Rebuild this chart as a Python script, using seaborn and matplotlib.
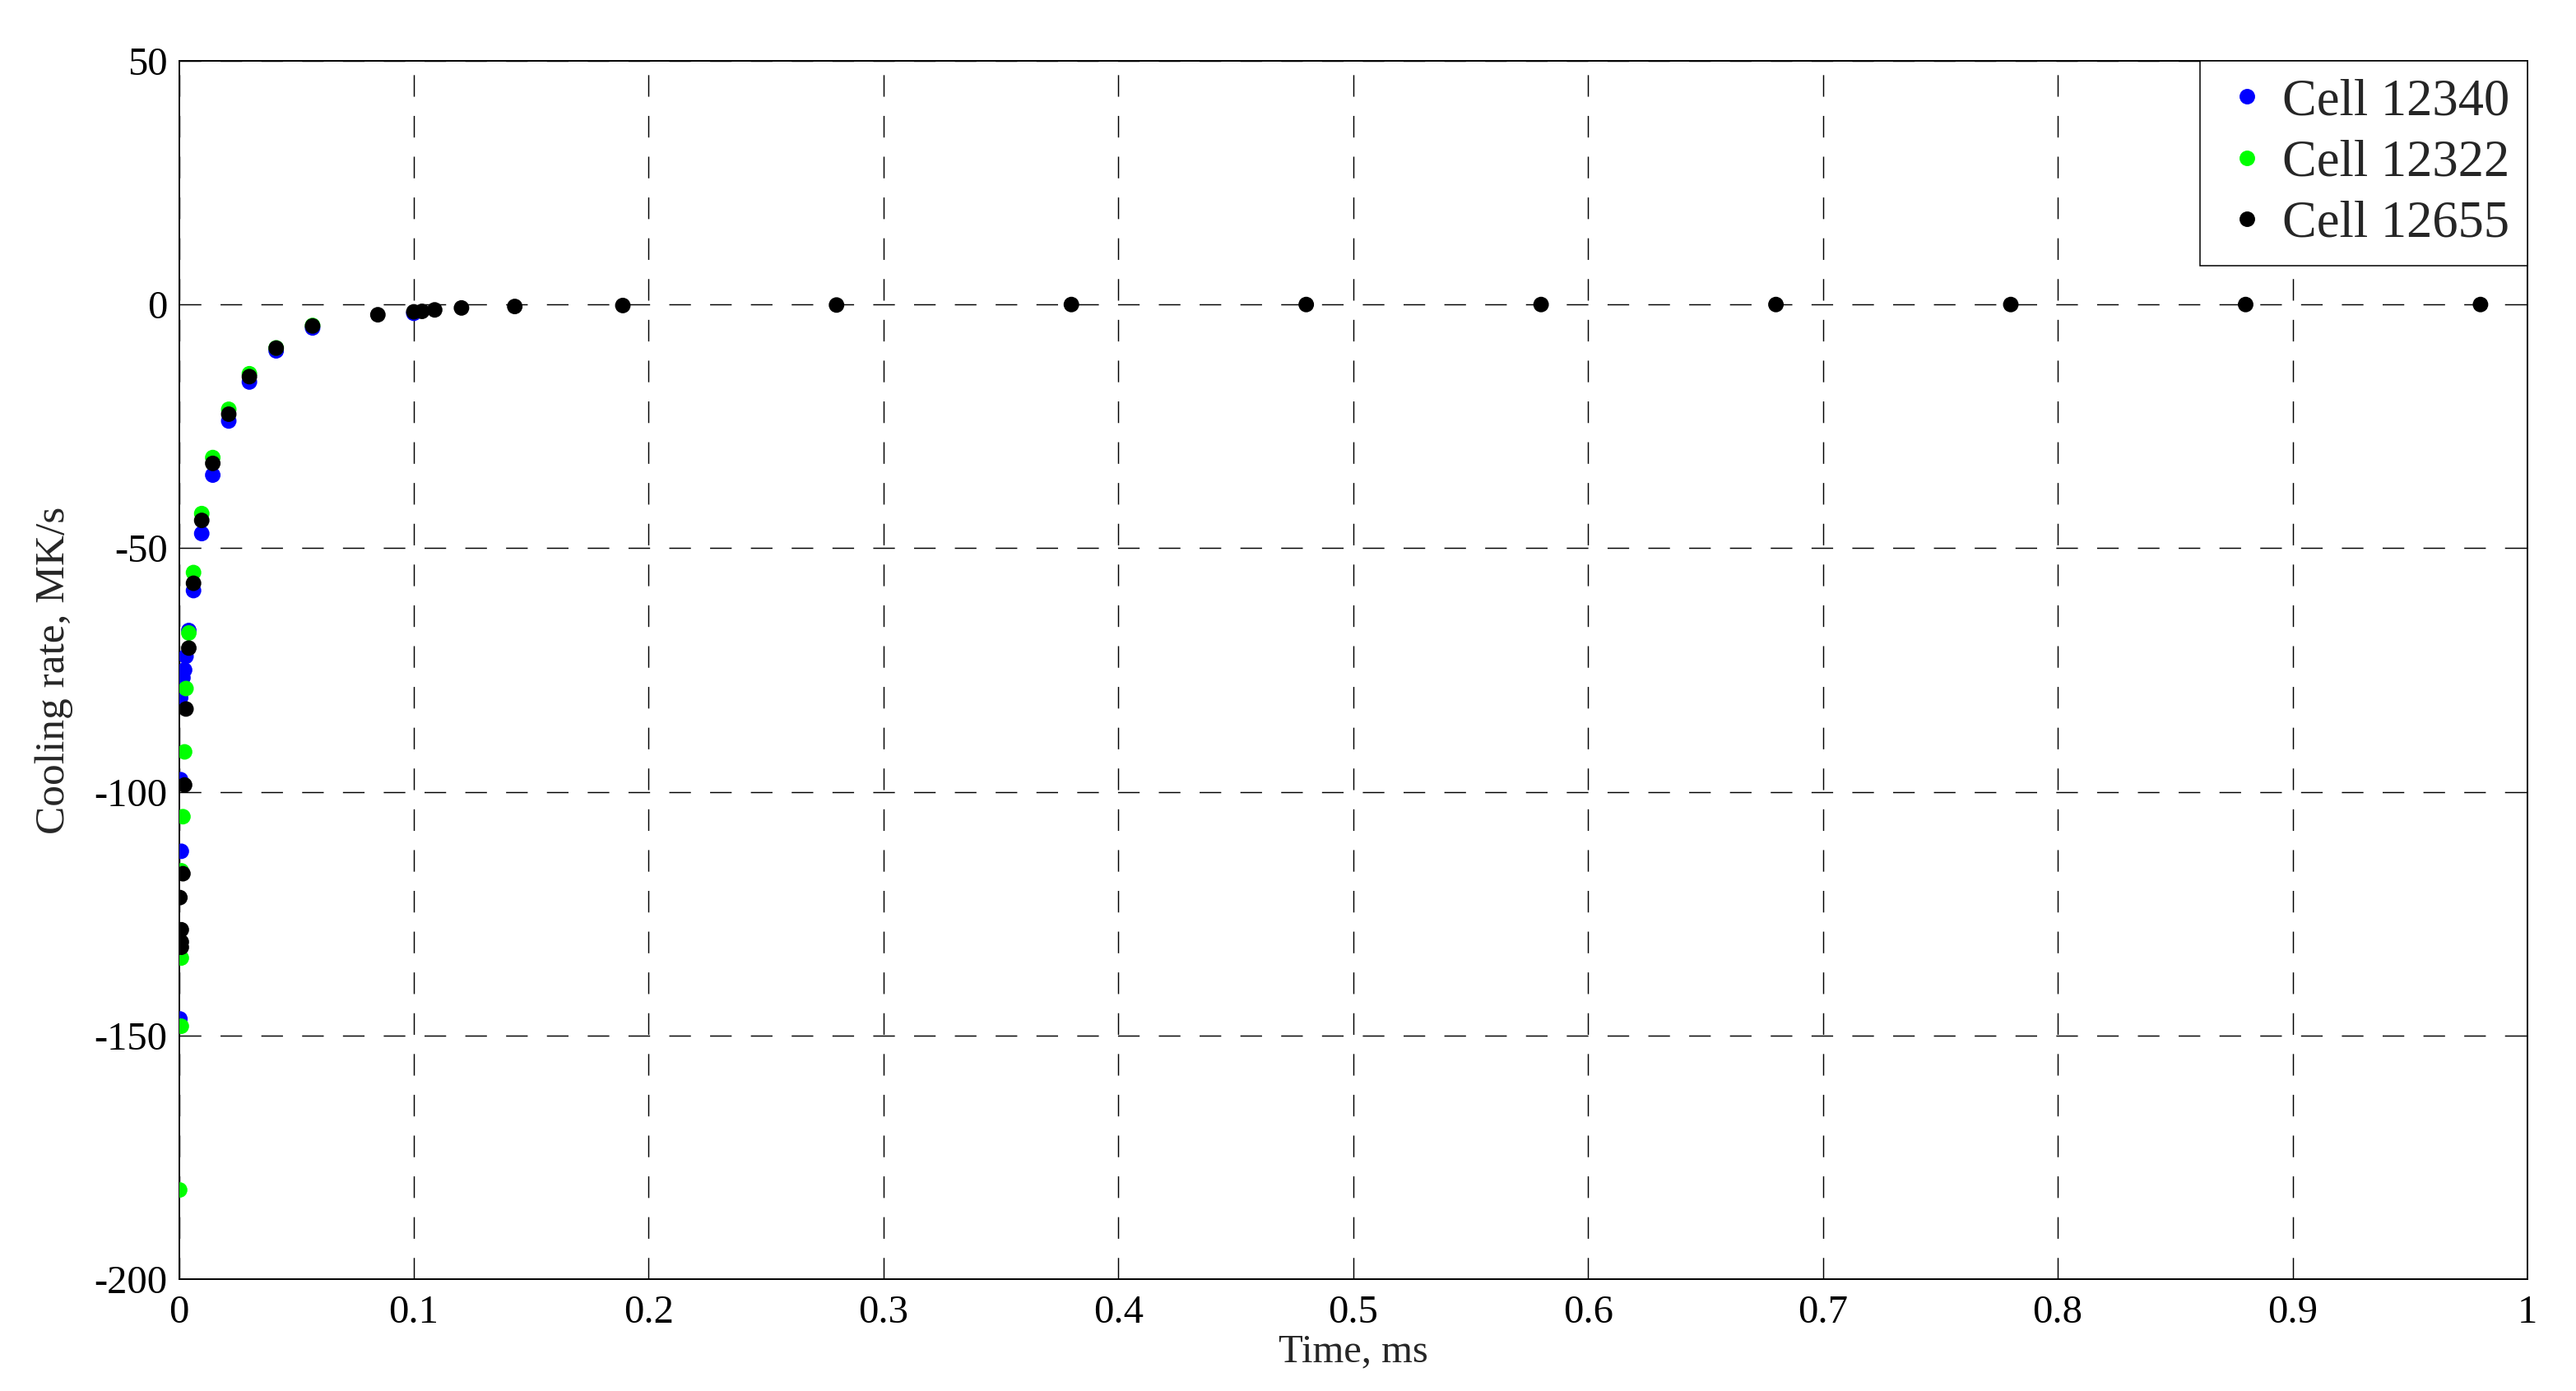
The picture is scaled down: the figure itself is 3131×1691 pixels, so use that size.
import matplotlib
matplotlib.use("Agg")
import matplotlib.pyplot as plt
import seaborn as sns
import pandas as pd

# ---- data ----
blue_t = [0.0004, 0.0007, 0.0007, 0.0010, 0.0017, 0.0024, 0.0030, 0.0042, 0.0062,
          0.0097, 0.0144, 0.0212, 0.0300, 0.0414, 0.0569, 0.1000]
blue_v = [-146.6, -97.5, -80.7, -112.2, -76.6, -75.0, -72.2, -66.9, -58.7,
          -47.0, -35.0, -23.9, -15.9, -9.5, -4.8, -1.8]

green_t = [0.0003, 0.0010, 0.0010, 0.0010, 0.0017, 0.0024, 0.0030, 0.0042, 0.0062,
           0.0097, 0.0144, 0.0212, 0.0300, 0.0414, 0.0569]
green_v = [-181.7, -148.1, -134.1, -116.2, -105.1, -91.8, -78.8, -67.4, -55.0,
           -42.9, -31.4, -21.5, -14.2, -8.9, -4.3]

black_t = [0.0004, 0.0010, 0.0010, 0.0010, 0.0017, 0.0024, 0.0030, 0.0042, 0.0062,
           0.0097, 0.0144, 0.0212, 0.0300, 0.0414, 0.0569, 0.0847, 0.1000, 0.1035,
           0.1089, 0.1203, 0.143, 0.189, 0.28, 0.38, 0.48, 0.58, 0.68, 0.78, 0.88, 0.98]
black_v = [-121.7, -128.3, -130.8, -131.9, -116.8, -98.6, -83.0, -70.5, -57.2,
           -44.3, -32.6, -22.5, -14.8, -8.95, -4.4, -2.1, -1.5, -1.4,
           -1.1, -0.7, -0.4, -0.2, -0.1, 0.0, 0.0, 0.0, 0.0, 0.0, 0.0, 0.0]

series_names = ["Cell 12340", "Cell 12322", "Cell 12655"]
series_colors = ["#0000FF", "#00FF00", "#000000"]

xticks = [0, 0.1, 0.2, 0.3, 0.4, 0.5, 0.6, 0.7, 0.8, 0.9, 1.0]
xtick_labels = ["0", "0.1", "0.2", "0.3", "0.4", "0.5", "0.6", "0.7", "0.8", "0.9", "1"]
yticks = [-200, -150, -100, -50, 0, 50]
ytick_labels = ["-200", "-150", "-100", "-50", "0", "50"]

# ---- build long table ----
frames = []
for name, t, v in zip(series_names, [blue_t, green_t, black_t], [blue_v, green_v, black_v]):
    frames.append(pd.DataFrame({"Time": t, "Rate": v, "Cell": name}))
df = pd.concat(frames, ignore_index=True)

sns.set_style("white")
plt.rcParams["font.family"] = ["Liberation Serif", "DejaVu Serif"]
plt.rcParams["axes.unicode_minus"] = False

W, H = 3131, 1691
fig = plt.figure(figsize=(W / 100, H / 100), dpi=100)
ax = fig.add_axes([217.5 / W, 1 - 1555 / H, (3072 - 217.5) / W, (1555 - 74) / H])

sns.scatterplot(data=df, x="Time", y="Rate", hue="Cell", hue_order=series_names,
                palette=dict(zip(series_names, series_colors)), s=185,
                linewidth=0, edgecolor="none", ax=ax, zorder=3)

ax.set_xlim(0, 1)
ax.set_ylim(-200, 50)
ax.set_xticks(xticks)
ax.set_xticklabels(xtick_labels)
ax.set_yticks(yticks)
ax.set_yticklabels(ytick_labels)
ax.tick_params(axis="both", which="both", length=0, labelsize=35, colors="black")
ax.tick_params(axis="x", pad=14)
ax.tick_params(axis="y", pad=10)

ax.set_xlabel("Time, ms", fontsize=35, labelpad=2)
ax.set_ylabel("Cooling rate, MK/s", fontsize=37, labelpad=18)

ax.grid(True, color="black", linewidth=1.05, linestyle=(0, (18, 16)))
ax.set_axisbelow(True)

for sp in ax.spines.values():
    sp.set_visible(True)
    sp.set_color("black")
    sp.set_linewidth(1.4)

handles, labels = ax.get_legend_handles_labels()
leg = ax.legend(handles, labels, loc="upper right", borderaxespad=0, fontsize=45,
                frameon=True, fancybox=False, edgecolor="black", framealpha=1,
                borderpad=0.34, labelspacing=0.26, handlelength=1.15,
                handletextpad=0.12, markerscale=1.0)
leg.get_frame().set_linewidth(1.1)

fig.savefig("out.png", dpi=100, facecolor="white")
